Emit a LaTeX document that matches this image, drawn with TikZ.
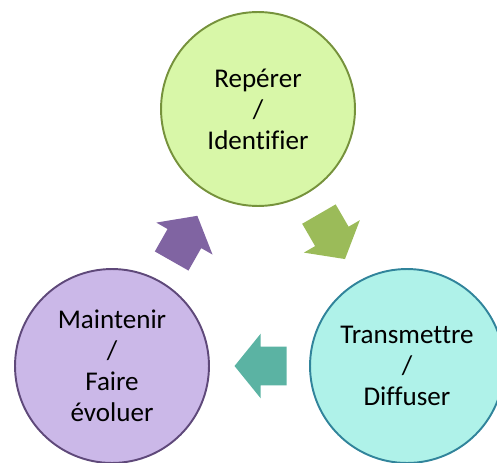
\documentclass[tikz,border=0pt]{standalone}
\usepackage{fontspec}
\setmainfont[Ligatures=CommonOff]{Carlito}
\usepackage{tikz}
\usetikzlibrary{shapes,arrows}
\usetikzlibrary{positioning}
\definecolor{greenfill}{HTML}{D8F7A8}
\definecolor{greendraw}{HTML}{76923C}
\definecolor{violetfill}{HTML}{CBB8E8}
\definecolor{violetdraw}{HTML}{5F497A}
\definecolor{aquafill}{HTML}{AFF2E9}
\definecolor{aquadraw}{HTML}{31849B}
\definecolor{violetarrow}{HTML}{8064A2}
\definecolor{greenarrow}{HTML}{9BBB59}
\definecolor{aquaarrow}{HTML}{5BB3A3}
\tikzset{
	step circle/.style={circle, draw, line width=1.1pt, minimum size=3.88cm, inner sep=0pt,
		align=center, font=\fontsize{15.4}{17.6}\selectfont},
	% block arrows between the circles
	bigarrow/.style={single arrow, draw=none, sloped, allow upside down, inner xsep=0pt,
		inner ysep=0.38cm, single arrow head extend=0.26cm, single arrow tip angle=102,
		minimum height=1.04cm},
}
\begin{document}
\begin{tikzpicture}[x=0.02cm, y=-0.02cm]
	\useasboundingbox (0,0) rectangle (497,463);
	\clip (0,0) rectangle (497,463);
	\node[step circle, fill=greenfill, draw=greendraw] (reperer) at (258,109) {Repérer\\/\\Identifier};
	\node[step circle, fill=aquafill, draw=aquadraw] (transmettre) at (407,366) {Transmettre\\/\\Diffuser};
	\node[step circle, fill=violetfill, draw=violetdraw] (maintenir) at (112,366) {Maintenir\\/\\Faire\\évoluer};
	\path (reperer.center) -- node[bigarrow, fill=greenarrow, pos=0.47] (fleche1) {} (transmettre.center);
	\path (transmettre.center) -- node[bigarrow, fill=aquaarrow, pos=0.47] (fleche2) {} (maintenir.center);
	\path (maintenir.center) -- node[bigarrow, fill=violetarrow, pos=0.47] (fleche3) {} (reperer.center);
\end{tikzpicture}
\end{document}
